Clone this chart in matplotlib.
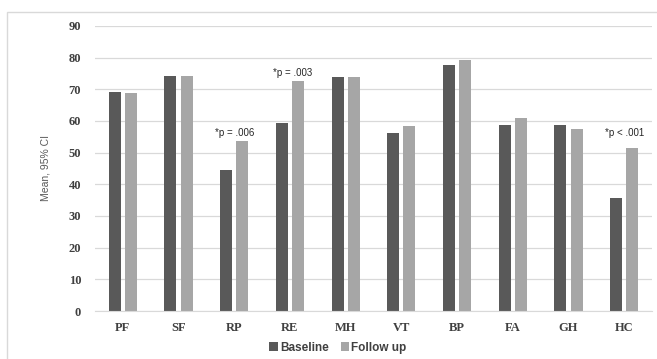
import numpy as np
import matplotlib.pyplot as plt
from matplotlib.patches import Rectangle

categories = ['PF', 'SF', 'RP', 'RE', 'MH', 'VT', 'BP', 'FA', 'GH', 'HC']
baseline = [69.2, 74.3, 44.6, 59.5, 73.9, 56.1, 77.6, 58.7, 58.6, 35.6]
follow_up = [68.8, 74.2, 53.6, 72.6, 73.9, 58.3, 79.4, 60.8, 57.5, 51.6]
notes = {'RP': '*p = .006', 'RE': '*p = .003', 'HC': '*p < .001'}
note_y = {'RP': 56.2, 'RE': 75.3, 'HC': 56.2}

fig = plt.figure(figsize=(6.57, 3.59), dpi=100)
ax = fig.add_axes([95 / 657, 1 - 311 / 359, 557 / 657, 285 / 359])

# outer chart frame like the Excel chart area (right/bottom edges cut off)
fig.patches.append(Rectangle((7 / 657, -0.05), 1.0, 1 - 12 / 359 + 0.05,
                             transform=fig.transFigure, fill=False,
                             edgecolor='#d9d9d9', linewidth=1))

x = np.arange(len(categories))
w = 0.215
off = 0.145
b1 = ax.bar(x - off, baseline, w, color='#595959', label='Baseline')
b2 = ax.bar(x + off, follow_up, w, color='#a6a6a6', label='Follow up')

for c, txt in notes.items():
    i = categories.index(c)
    dx = 0.05 if c == 'RE' else 0
    ax.text(i + dx, note_y[c], txt, ha='center', va='center', fontsize=7,
            family='Liberation Sans', color='#262626')

ax.set_xlim(-0.5, len(categories) - 0.5)
ax.set_ylim(0, 90)
ax.set_yticks(range(0, 91, 10))
ax.set_xticks(x)
ax.set_xticklabels(categories)
ax.grid(axis='y', color='#d9d9d9', linewidth=0.9)
ax.set_axisbelow(True)
for s in ['top', 'right', 'left']:
    ax.spines[s].set_visible(False)
ax.spines['bottom'].set_color('#d9d9d9')
ax.tick_params(length=0)
ax.tick_params(axis='y', pad=10)
ax.tick_params(axis='x', pad=8)
for lab in ax.get_xticklabels() + ax.get_yticklabels():
    lab.set_family('Liberation Serif')
    lab.set_fontweight('bold')
    lab.set_fontsize(9)
    lab.set_color('#404040')

fig.text(46 / 657, 1 - 168 / 359, 'Mean, 95% CI', rotation=90, ha='center',
         va='center', fontsize=7.5, color='#595959', family='Liberation Sans')

fig.legend(handles=[b1, b2], loc='center', bbox_to_anchor=(338 / 657, 0.032),
           ncol=2, frameon=False, handlelength=0.7, handleheight=0.7,
           handletextpad=0.2, columnspacing=1.0,
           prop={'family': 'Liberation Sans', 'weight': 'bold', 'size': 8.5})
for t in fig.legends[0].get_texts():
    t.set_color('#404040')

fig.savefig('out.png', dpi=100)
